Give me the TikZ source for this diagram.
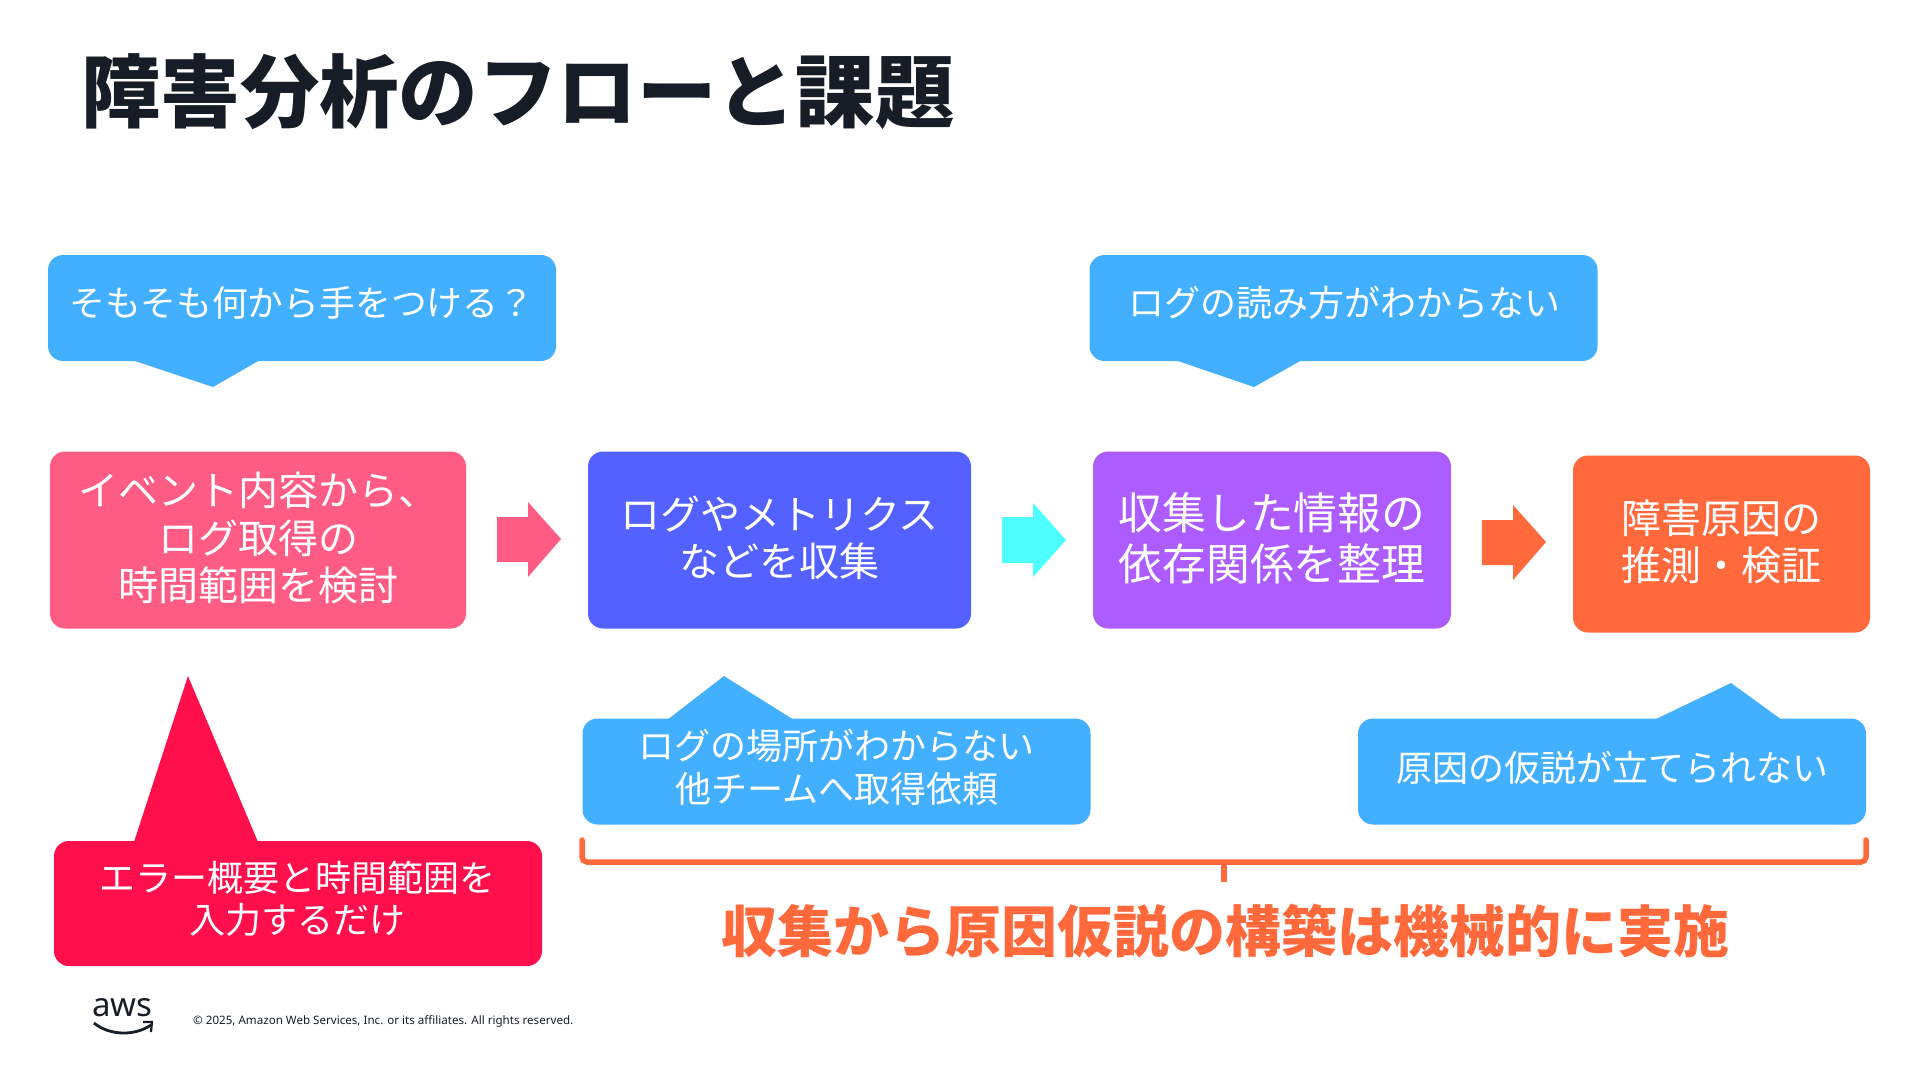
\documentclass[tikz,border=0pt]{standalone}
\usepackage{fontspec}
\setmainfont{Noto Sans CJK JP}
\newfontfamily\latinf{Noto Sans}
\definecolor{skyc}{HTML}{42AFFF}
\definecolor{pinkc}{HTML}{FF5C85}
\definecolor{indigoc}{HTML}{5261FF}
\definecolor{purplec}{HTML}{AD5CFF}
\definecolor{orangec}{HTML}{FF693C}
\definecolor{cyanc}{HTML}{4DFFFF}
\definecolor{redc}{HTML}{FF0F4B}
\definecolor{inkc}{HTML}{161D26}
\newcommand{\fs}[2]{\fontsize{#1}{#2}\selectfont}
\tikzset{
  boxn/.style={inner sep=0pt,outer sep=0pt,rounded corners=15pt},
  txt/.style={text=white,align=center,inner sep=0pt},
  ctext/.style={txt,font=\fs{36}{43}},
}
\begin{document}
\begin{tikzpicture}[x=1pt,y=-1pt]
\useasboundingbox (0,0) rectangle (1920,1080);
\node[anchor=west,inner sep=0pt,text=inkc,font=\fs{79.4}{90}\bfseries] (title) at (81,92) {障害分析のフローと課題};

% callouts, top
\fill[skyc] (132,360) -- (213,387) -- (260,360) -- cycle;
\node[boxn,fill=skyc,minimum width=508pt,minimum height=106pt] (c1) at (302,308) {};
\node[ctext,font=\fs{35.8}{42}] (c1t) at (302,302.5) {そもそも何から手をつける？};
\fill[skyc] (1175,360) -- (1254,387) -- (1302,360) -- cycle;
\node[boxn,fill=skyc,minimum width=508pt,minimum height=106pt] (c2) at (1343.5,308) {};
\node[ctext] (c2t) at (1344,303) {ログの読み方がわからない};

% process boxes
\node[boxn,fill=pinkc,minimum width=416pt,minimum height=177pt] (p1) at (258,540) {};
\node[txt,font=\fs{40}{47.5}] (p1t) at (258,538) {イベント内容から、\\ログ取得の\\時間範囲を検討};
\node[boxn,fill=indigoc,minimum width=383pt,minimum height=177pt] (p2) at (779.5,540) {};
\node[txt,font=\fs{40}{47}] (p2t) at (779.5,538) {ログやメトリクス\\などを収集};
\node[boxn,fill=purplec,minimum width=358pt,minimum height=177pt] (p3) at (1272,540) {};
\node[txt,font=\fs{43.8}{51}] (p3t) at (1272,538) {収集した情報の\\依存関係を整理};
\node[boxn,fill=orangec,minimum width=297pt,minimum height=177pt] (p4) at (1721.5,544) {};
\node[txt,font=\fs{40}{47}] (p4t) at (1721.5,541.5) {障害原因の\\推測・検証};

% block arrows
\fill[pinkc] (497,517) -- (528,517) -- (528,502) -- (561,539) -- (528,577) -- (528,562) -- (497,562) -- cycle;
\fill[cyanc] (1002,517) -- (1033,517) -- (1033,503) -- (1066,540) -- (1033,577) -- (1033,563) -- (1002,563) -- cycle;
\fill[orangec] (1482,520) -- (1513,520) -- (1513,505) -- (1546,542) -- (1513,580) -- (1513,565) -- (1482,565) -- cycle;

% callouts, bottom
\fill[skyc] (667,720) -- (724,676) -- (794,720) -- cycle;
\node[boxn,fill=skyc,minimum width=508pt,minimum height=106pt] (c3) at (836.5,771.5) {};
\node[ctext] (c3t) at (836.5,767) {ログの場所がわからない\\他チームへ取得依頼};
\fill[skyc] (1654,720) -- (1731,683) -- (1782,720) -- cycle;
\node[boxn,fill=skyc,minimum width=508pt,minimum height=106pt] (c4) at (1612,771.5) {};
\node[ctext] (c4t) at (1612,767.5) {原因の仮説が立てられない};
\fill[redc] (134,842) -- (188,676) -- (258,842) -- cycle;
\node[boxn,fill=redc,minimum width=488pt,minimum height=125pt] (c5) at (298,903.5) {};
\node[ctext,font=\fs{36}{42}] (c5t) at (297.5,899) {エラー概要と時間範囲を\\入力するだけ};

% bracket
\coordinate (bl) at (582,840);
\coordinate (br) at (1866,840);
\coordinate (bm) at (1224,862);
\draw[orangec,line width=5.5pt,rounded corners=5pt,line cap=round] (bl) -- (bl |- bm) -- (br |- bm) -- (br);
\draw[orangec,line width=5.5pt] (bm) -- ++(0,20);
\node[inner sep=0pt,text=orangec,font=\fs{56}{64}\bfseries] (msg) at (1225,931) {収集から原因仮説の構築は機械的に実施};

% footer
\node[inner sep=0pt,text=inkc,font=\latinf\fs{33}{33}] (aws) at (122.5,1008) {aws};
\draw[inkc,line width=2.8pt] (94,1023) .. controls (110,1036) and (135,1036) .. (151,1025);
\draw[inkc,line width=2.2pt] (143,1022) -- (152,1022) -- (151,1032);
\node[anchor=west,inner sep=0pt,text=inkc,font=\latinf\fs{11.6}{14}] (copy) at (193,1021) {© 2025, Amazon Web Services, Inc. or its affiliates. All rights reserved.};
\end{tikzpicture}
\end{document}
